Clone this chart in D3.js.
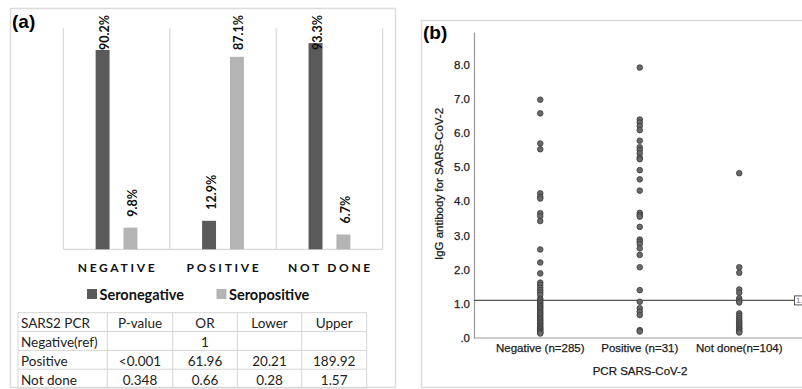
<!DOCTYPE html>
<html>
<head>
<meta charset="utf-8">
<script src="https://cdn.jsdelivr.net/npm/d3@7"></script>
<style>
  body { margin: 0; background: #fff; }
  svg { display: block; }
</style>
</head>
<body>
<div id="chart"></div>
<script>
// panel (a) data
const groups = ["NEGATIVE", "POSITIVE", "NOT DONE"];
const series = ["Seronegative", "Seropositive"];
const seronegative = [90.2, 12.9, 93.3];
const seropositive = [9.8, 87.1, 6.7];

const tableHeader = ["SARS2 PCR", "P-value", "OR", "Lower", "Upper"];
const tableRows = [
  ["Negative(ref)", "", "1", "", ""],
  ["Positive", "<0.001", "61.96", "20.21", "189.92"],
  ["Not done", "0.348", "0.66", "0.28", "1.57"],
];

// panel (b) data
const pcrGroups = ["Negative (n=285)", "Positive (n=31)", "Not done(n=104)"];
const negativeIgG = [6.97, 6.57, 5.69, 5.52, 4.23, 4.13, 4.08, 3.65, 3.56, 3.42, 2.59, 2.21, 1.89,
  1.62, 1.55, 1.47, 1.40, 1.33, 1.26, 1.15, 1.11, 1.06, 1.02, 0.97, 0.93, 0.89, 0.85, 0.80, 0.76,
  0.72, 0.68, 0.63, 0.59, 0.55, 0.51, 0.47, 0.43, 0.39, 0.35, 0.31, 0.28, 0.25, 0.21, 0.18, 0.15, 0.13];
const positiveIgG = [7.91, 6.39, 6.30, 6.20, 6.08, 5.77, 5.58, 5.50, 5.40, 5.28, 5.23, 4.91, 4.64,
  4.31, 3.66, 3.60, 3.55, 3.25, 2.88, 2.82, 2.75, 2.62, 2.43, 2.07, 1.40, 1.06, 0.87, 0.77, 0.67,
  0.23, 0.19];
const notDoneIgG = [4.82, 2.07, 1.91, 1.42, 1.32, 1.16, 1.09, 1.04, 0.72, 0.65, 0.58, 0.52, 0.46,
  0.41, 0.36, 0.31, 0.27, 0.23, 0.19, 0.16];
const cutoff = 1.1;
const yTicks = [0, 1, 2, 3, 4, 5, 6, 7, 8];

const colors = { Seronegative: "#5a5a5a", Seropositive: "#b4b4b4" };
const arial = "Liberation Sans, Arial, sans-serif";

const svg = d3.select("#chart").append("svg")
  .attr("width", 802).attr("height", 389);
svg.append("rect").attr("width", 802).attr("height", 389).attr("fill", "#fff");

// ---------- panel (a) ----------
const pa = svg.append("g");
pa.append("rect")
  .attr("x", 10.5).attr("y", 8.5).attr("width", 385).attr("height", 379)
  .attr("fill", "none").attr("stroke", "#dcdcdc").attr("stroke-width", 1.5);
pa.append("text").attr("x", 12).attr("y", 28)
  .attr("font-family", arial).attr("font-weight", "bold")
  .attr("font-size", 19).text("(a)");

const x0 = d3.scaleBand().domain(groups).range([63.3, 382.7]);
const x1 = d3.scaleBand().domain(series).range([0, x0.bandwidth()])
  .paddingInner(0.5).paddingOuter(1.16);
const ya = d3.scaleLinear().domain([0, 100]).range([249.3, 28.3]);

// category separators
pa.selectAll(".sep").data([...groups.map((g) => x0(g)), 382.7]).enter()
  .append("line")
  .attr("x1", (d) => d).attr("x2", (d) => d)
  .attr("y1", ya(100)).attr("y2", ya(0))
  .attr("stroke", "#d9d9d9").attr("stroke-width", 1.2);
pa.append("line")
  .attr("x1", 63.3).attr("x2", 382.7).attr("y1", ya(0)).attr("y2", ya(0))
  .attr("stroke", "#d9d9d9").attr("stroke-width", 1.2);

const barData = [];
groups.forEach((g, i) => {
  barData.push({ group: g, series: "Seronegative", value: seronegative[i] });
  barData.push({ group: g, series: "Seropositive", value: seropositive[i] });
});

pa.selectAll(".bar").data(barData).enter()
  .append("rect")
  .attr("x", (d) => x0(d.group) + x1(d.series))
  .attr("y", (d) => ya(d.value))
  .attr("width", x1.bandwidth())
  .attr("height", (d) => ya(0) - ya(d.value))
  .attr("fill", (d) => colors[d.series]);

// value labels, rotated, kept inside the plot top
pa.selectAll(".lbl").data(barData).enter()
  .append("text")
  .attr("font-family", "Lato, sans-serif").attr("font-weight", "bold")
  .attr("font-size", 12.5).attr("fill", "#111")
  .attr("dominant-baseline", "central")
  .text((d) => d.value.toFixed(1) + "%")
  .each(function (d) {
    const len = this.getComputedTextLength();
    const cx = x0(d.group) + x1(d.series) + x1.bandwidth() / 2 + 2;
    const bottom = Math.max(ya(d.value) - 11, 15 + len);
    d3.select(this).attr("transform", `translate(${cx},${bottom}) rotate(-90)`);
  });

pa.selectAll(".cat").data(groups).enter()
  .append("text")
  .attr("x", (d) => x0(d) + x0.bandwidth() / 2 + 1)
  .attr("y", 272)
  .attr("text-anchor", "middle")
  .attr("font-family", "Lato, sans-serif").attr("font-weight", "bold")
  .attr("font-size", 12).attr("letter-spacing", "2.7px").attr("fill", "#111")
  .text((d) => d);

// legend
const legendX = [87, 216.5];
const leg = pa.selectAll(".leg").data(series).enter().append("g")
  .attr("transform", (d, i) => `translate(${legendX[i]},294)`);
leg.append("rect").attr("x", 0).attr("y", -5).attr("width", 10).attr("height", 10)
  .attr("fill", (d) => colors[d]);
leg.append("text").attr("x", 12.5).attr("y", 0)
  .attr("dominant-baseline", "central")
  .attr("font-family", "Lato, sans-serif").attr("font-weight", "bold")
  .attr("font-size", 14.5).attr("fill", "#111")
  .text((d) => d);

// table
const colEdges = [18, 107.3, 172.7, 237.3, 301.7, 366.7];
const rowEdges = [312.7, 331.5, 350.4, 369.2, 388];
const allRows = [tableHeader, ...tableRows];
const tbl = pa.append("g");
rowEdges.forEach((y) => {
  tbl.append("line").attr("x1", colEdges[0]).attr("x2", colEdges[5])
    .attr("y1", y).attr("y2", y).attr("stroke", "#d6d6d6");
});
colEdges.forEach((x) => {
  tbl.append("line").attr("x1", x).attr("x2", x)
    .attr("y1", rowEdges[0]).attr("y2", rowEdges[4]).attr("stroke", "#d6d6d6");
});
allRows.forEach((row, r) => {
  row.forEach((cell, c) => {
    tbl.append("text")
      .attr("x", c === 0 ? colEdges[0] + 3 : (colEdges[c] + colEdges[c + 1]) / 2)
      .attr("y", (rowEdges[r] + rowEdges[r + 1]) / 2 + 1)
      .attr("text-anchor", c === 0 ? "start" : "middle")
      .attr("dominant-baseline", "central")
      .attr("font-family", "Lato, sans-serif").attr("font-size", 13.5)
      .attr("fill", "#222")
      .text(cell);
  });
});

// ---------- panel (b) ----------
const pb = svg.append("g");
pb.append("rect")
  .attr("x", 421.5).attr("y", 20.5).attr("width", 400).attr("height", 367)
  .attr("fill", "none").attr("stroke", "#dcdcdc").attr("stroke-width", 1.5);
pb.append("text").attr("x", 423).attr("y", 39)
  .attr("font-family", arial).attr("font-weight", "bold")
  .attr("font-size", 19).text("(b)");

const xb = d3.scaleBand().domain(pcrGroups).range([490.5, 789]);
const yb = d3.scaleLinear().domain([0, 8.95]).range([338, 32]);

function styleText(sel) {
  sel.attr("font-family", arial).attr("font-size", 11.5)
    .attr("fill", "#1a1a1a").attr("stroke", "#1a1a1a").attr("stroke-width", 0.25);
}

const yAxis = pb.append("g").attr("transform", "translate(474,0)")
  .call(d3.axisLeft(yb).tickValues(yTicks).tickSize(0).tickPadding(4)
    .tickFormat((d) => (d === 0 ? ".0" : d.toFixed(1))));
yAxis.select(".domain").attr("stroke", "#999").attr("stroke-width", 1.2);
styleText(yAxis.selectAll("text"));

const xAxis = pb.append("g").attr("transform", "translate(0,338)")
  .call(d3.axisBottom(xb).tickSize(0).tickPadding(6));
xAxis.select(".domain").remove();
xAxis.append("line").attr("x1", 474).attr("x2", 802).attr("stroke", "#999").attr("stroke-width", 1.2);
styleText(xAxis.selectAll("text"));

pb.append("text")
  .attr("transform", "translate(443,184) rotate(-90)")
  .attr("text-anchor", "middle")
  .call(styleText)
  .text("IgG antibody for SARS-CoV-2");
pb.append("text")
  .attr("x", 640).attr("y", 375).attr("text-anchor", "middle")
  .call(styleText)
  .text("PCR SARS-CoV-2");

// cutoff reference line with its (cropped) label box
pb.append("line").attr("x1", 474).attr("x2", 794)
  .attr("y1", yb(cutoff)).attr("y2", yb(cutoff))
  .attr("stroke", "#555").attr("stroke-width", 1.3);
pb.append("rect").attr("x", 794.5).attr("y", yb(cutoff) - 4.5)
  .attr("width", 12).attr("height", 9)
  .attr("fill", "#fff").attr("stroke", "#555");
pb.append("text").attr("x", 796).attr("y", yb(cutoff) + 3)
  .attr("font-family", arial).attr("font-size", 8)
  .attr("fill", "#777").text(cutoff.toFixed(1));

const pts = [];
[negativeIgG, positiveIgG, notDoneIgG].forEach((vals, i) => {
  vals.forEach((v) => pts.push({ group: pcrGroups[i], value: v }));
});
pb.selectAll(".pt").data(pts).enter()
  .append("circle")
  .attr("cx", (d) => xb(d.group) + xb.bandwidth() / 2)
  .attr("cy", (d) => yb(d.value))
  .attr("r", 2.8)
  .attr("fill", "#6a6a6a").attr("stroke", "#3a3a3a").attr("stroke-width", 0.8);
</script>
</body>
</html>
